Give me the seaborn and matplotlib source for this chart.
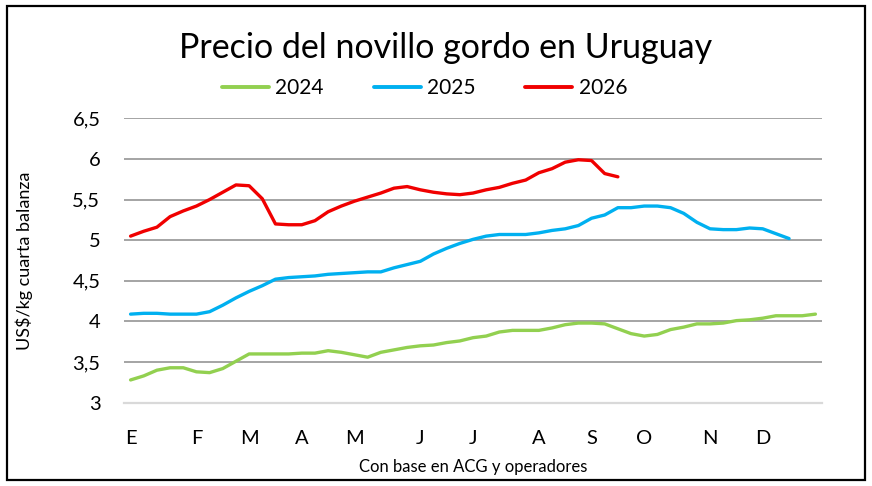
import numpy as np
import pandas as pd
import matplotlib
matplotlib.use("Agg")
import matplotlib.pyplot as plt
import seaborn as sns
from matplotlib.patches import Rectangle

# ---- data (weekly, US$/kg cuarta balanza) ----
years = ["2024", "2025", "2026"]
v2024 = [3.28, 3.33, 3.40, 3.43, 3.43, 3.38, 3.37, 3.42, 3.51, 3.60,
         3.60, 3.60, 3.60, 3.61, 3.61, 3.64, 3.62, 3.59, 3.56, 3.62,
         3.65, 3.68, 3.70, 3.71, 3.74, 3.76, 3.80, 3.82, 3.87, 3.89,
         3.89, 3.89, 3.92, 3.96, 3.98, 3.98, 3.97, 3.91, 3.85, 3.82,
         3.84, 3.90, 3.93, 3.97, 3.97, 3.98, 4.01, 4.02, 4.04, 4.07,
         4.07, 4.07, 4.09]
v2025 = [4.09, 4.10, 4.10, 4.09, 4.09, 4.09, 4.12, 4.20, 4.29, 4.37,
         4.44, 4.52, 4.54, 4.55, 4.56, 4.58, 4.59, 4.60, 4.61, 4.61,
         4.66, 4.70, 4.74, 4.83, 4.90, 4.96, 5.01, 5.05, 5.07, 5.07,
         5.07, 5.09, 5.12, 5.14, 5.18, 5.27, 5.31, 5.40, 5.40, 5.42,
         5.42, 5.40, 5.33, 5.22, 5.14, 5.13, 5.13, 5.15, 5.14, 5.08,
         5.02]
v2026 = [5.05, 5.11, 5.16, 5.29, 5.36, 5.42, 5.50, 5.59, 5.68, 5.67,
         5.51, 5.20, 5.19, 5.19, 5.24, 5.35, 5.42, 5.48, 5.53, 5.58,
         5.64, 5.66, 5.62, 5.59, 5.57, 5.56, 5.58, 5.62, 5.65, 5.70,
         5.74, 5.83, 5.88, 5.96, 5.99, 5.98, 5.82, 5.78]
month_labels = ["E", "F", "M", "A", "M", "J", "J", "A", "S", "O", "N", "D"]
month_weeks = [0, 5, 9, 13, 17, 22, 26, 31, 35, 39, 44, 48]
ytick_values = [3, 3.5, 4, 4.5, 5, 5.5, 6, 6.5]
ytick_labels = ["3", "3,5", "4", "4,5", "5", "5,5", "6", "6,5"]
colors = {"2024": "#92D050", "2025": "#00B0F0", "2026": "#F00000"}

frames = []
for y, vals in zip(years, [v2024, v2025, v2026]):
    frames.append(pd.DataFrame({"week": np.arange(len(vals)), "precio": vals, "año": y}))
df = pd.concat(frames, ignore_index=True)

sns.set_style("white")
plt.rcParams["font.family"] = ["Lato", "DejaVu Sans"]
plt.rcParams["text.color"] = "black"
plt.rcParams["axes.labelcolor"] = "black"
plt.rcParams["xtick.color"] = "black"
plt.rcParams["ytick.color"] = "black"

W, H = 872, 486
fig = plt.figure(figsize=(W / 100, H / 100), dpi=100)
ax = fig.add_axes([124 / W, 1 - 402.7 / H, (822 - 124) / W, (402.7 - 118.3) / H])

sns.lineplot(data=df, x="week", y="precio", hue="año", palette=colors,
             linewidth=2.4, ax=ax, legend=False)

ax.set_xlim(-0.5, 52.5)
ax.set_ylim(3, 6.5)
ax.set_yticks(ytick_values)
ax.set_yticklabels(ytick_labels, fontsize=14.5)
ax.set_xticks(month_weeks)
ax.set_xticklabels(month_labels, fontsize=14.5)
ax.tick_params(axis="both", length=0)
ax.tick_params(axis="y", pad=17)
ax.tick_params(axis="x", pad=20)

for v in ytick_values[1:]:
    ax.axhline(v, color="#8c8c8c", lw=1.1, zorder=0)
for s in ["top", "right", "left"]:
    ax.spines[s].set_visible(False)
ax.spines["bottom"].set_color("#d9d9d9")
ax.spines["bottom"].set_linewidth(1.6)

ax.set_ylabel("US$/kg cuarta balanza", fontsize=13)
ax.yaxis.set_label_coords((33 - 124) / 698, 0.5)
ax.set_xlabel("Con base en ACG y operadores", fontsize=12)
ax.xaxis.set_label_coords(0.5, (402.7 - 459) / 284.4)

fig.text(0.511, 1 - 48 / H, "Precio del novillo gordo en Uruguay", ha="center", va="center", fontsize=24.5)

handles = [plt.Line2D([], [], color=colors[y], lw=2.8) for y in years]
fig.legend(handles, years, loc="center", bbox_to_anchor=(0.487, 1 - 88 / H), ncol=3,
           frameon=False, fontsize=15, handlelength=2.25, handletextpad=0.3, columnspacing=2.4)

fig.add_artist(Rectangle((7 / W, 1 - 480 / H), 858 / W, 474 / H, transform=fig.transFigure,
                         fill=False, edgecolor="black", lw=1.6))

fig.savefig("out.png", dpi=100)
